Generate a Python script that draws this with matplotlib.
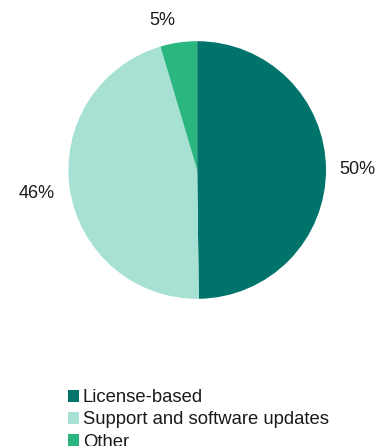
import matplotlib
matplotlib.use("Agg")
import matplotlib.pyplot as plt
from matplotlib.patches import Patch

plt.rcParams['font.family'] = ['Liberation Sans', 'DejaVu Sans']

categories = ["License-based", "Support and software updates", "Other"]
values = [49.8, 45.6, 4.6]
value_labels = ["50%", "46%", "5%"]
colors = ["#00736B", "#A6E1D4", "#2AB67F"]

W, H = 379, 446
fig = plt.figure(figsize=(W / 100, H / 100), dpi=100)

cx, cy, r = 197.2, 170, 128.8
ax = fig.add_axes([(cx - r) / W, (H - cy - r) / H, 2 * r / W, 2 * r / H])
wedges, _ = ax.pie(values, colors=colors, startangle=90, counterclock=False,
                   radius=1, wedgeprops=dict(linewidth=0))
ax.set_xlim(-1, 1)
ax.set_ylim(-1, 1)
ax.set_aspect('equal')
ax.axis('off')

# label positions (in pie radius units)
label_pos = [(1.24, 0.0), (-1.25, -0.18), (-0.27, 1.16)]
for (x, y), t in zip(label_pos, value_labels):
    ax.text(x, y, t, ha='center', va='center', fontsize=13, color='#1a1a1a')

handles = [Patch(facecolor=c, edgecolor='none') for c in colors]
fig.legend(handles, categories, loc='upper left',
           bbox_to_anchor=(59 / W, 1 - 380 / H), frameon=False,
           fontsize=13.3, handlelength=0.6, handleheight=0.6,
           handletextpad=0.18, labelspacing=0.28, borderpad=0,
           labelcolor='#1a1a1a')

fig.savefig("out.png", dpi=100)
